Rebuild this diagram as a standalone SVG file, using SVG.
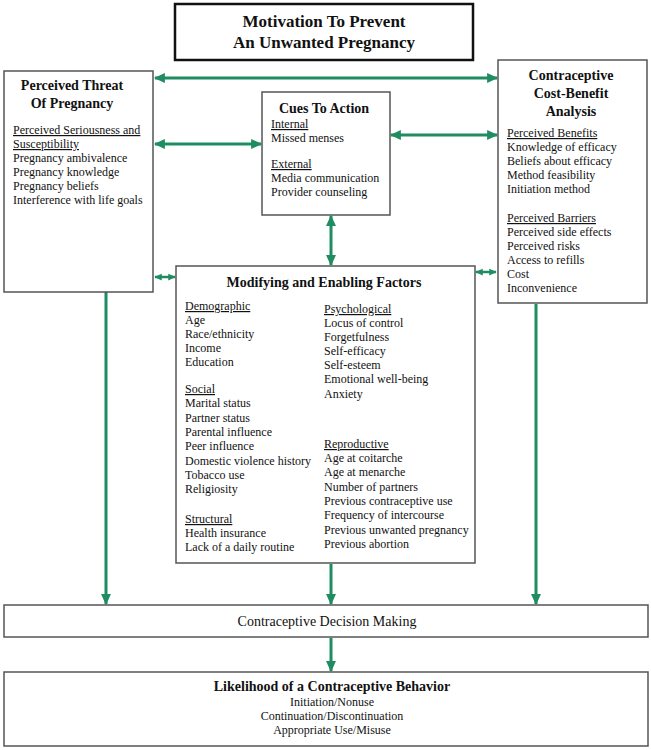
<svg xmlns="http://www.w3.org/2000/svg" width="651" height="750" viewBox="0 0 651 750">
<style>
text{font-family:"Liberation Serif","Times New Roman",serif;fill:#111;}
.t{font-size:14px;font-weight:bold;text-anchor:middle;}
.b{font-size:12px;}
.u{font-size:12px;text-decoration:underline;}
.box{fill:#fff;stroke:#555;stroke-width:1.5;}
.c{stroke:#1f8c62;stroke-width:3;fill:none;marker-end:url(#ah);}
.d{marker-start:url(#ah);}
.s{stroke:#1f8c62;stroke-width:2.5;fill:none;marker-start:url(#sm);marker-end:url(#sm);}
</style>
<defs>
<marker id="ah" markerUnits="userSpaceOnUse" markerWidth="11" markerHeight="11" viewBox="0 0 10 10" refX="9" refY="5" orient="auto-start-reverse">
<path d="M0,0.5 L10,5 L0,9.5 Z" fill="#1f8c62"/>
</marker>
<marker id="sm" markerUnits="userSpaceOnUse" markerWidth="7.5" markerHeight="9" viewBox="0 0 10 10" refX="9" refY="5" orient="auto-start-reverse">
<path d="M0,0.5 L10,5 L0,9.5 Z" fill="#1f8c62"/>
</marker>
</defs>
<rect width="651" height="750" fill="#fff"/>
<g id="connectors">
<line class="c d" x1="155" y1="78" x2="497" y2="78"/>
<line class="c d" x1="155" y1="144" x2="261" y2="144"/>
<line class="c d" x1="391" y1="135" x2="497" y2="135"/>
<line class="c d" x1="331" y1="216" x2="331" y2="265"/>
<line class="s" x1="155" y1="277" x2="175" y2="277"/>
<line class="s" x1="476" y1="272" x2="496" y2="272"/>
<line class="c" x1="106" y1="292" x2="106" y2="604"/>
<line class="c" x1="331" y1="564" x2="331" y2="604"/>
<line class="c" x1="536" y1="304" x2="536" y2="604"/>
<line class="c" x1="331" y1="638" x2="331" y2="671"/>
</g>
<g id="motivation">
<rect x="175" y="4" width="298" height="56" fill="#fff" stroke="#111" stroke-width="2.5"/>
<text x="324" y="27" class="t" style="font-size:17px">Motivation To Prevent</text>
<text x="324" y="48" class="t" style="font-size:17px">An Unwanted Pregnancy</text>
</g>
<g id="threat">
<rect class="box" x="4" y="71" width="149" height="221"/>
<text x="72" y="90" class="t">Perceived Threat</text>
<text x="72" y="108" class="t">Of Pregnancy</text>
<text x="13" y="134" class="u">Perceived Seriousness and</text>
<text x="13" y="148" class="u">Susceptibility</text>
<text x="13" y="162" class="b">Pregnancy ambivalence</text>
<text x="13" y="176" class="b">Pregnancy knowledge</text>
<text x="13" y="190" class="b">Pregnancy beliefs</text>
<text x="13" y="204" class="b">Interference with life goals</text>
</g>
<g id="cues">
<rect class="box" x="262" y="92" width="128" height="123"/>
<text x="324" y="113" class="t">Cues To Action</text>
<text x="271" y="128" class="u">Internal</text>
<text x="271" y="142" class="b">Missed menses</text>
<text x="271" y="168" class="u">External</text>
<text x="271" y="182" class="b">Media communication</text>
<text x="271" y="196" class="b">Provider counseling</text>
</g>
<g id="costbenefit">
<rect class="box" x="498" y="60" width="149" height="243"/>
<text x="571" y="80" class="t">Contraceptive</text>
<text x="571" y="98" class="t">Cost-Benefit</text>
<text x="571" y="116" class="t">Analysis</text>
<text x="507" y="137" class="u">Perceived Benefits</text>
<text x="507" y="151" class="b">Knowledge of efficacy</text>
<text x="507" y="165" class="b">Beliefs about efficacy</text>
<text x="507" y="179" class="b">Method feasibility</text>
<text x="507" y="193" class="b">Initiation method</text>
<text x="507" y="222" class="u">Perceived Barriers</text>
<text x="507" y="236" class="b">Perceived side effects</text>
<text x="507" y="250" class="b">Perceived risks</text>
<text x="507" y="264" class="b">Access to refills</text>
<text x="507" y="278" class="b">Cost</text>
<text x="507" y="292" class="b">Inconvenience</text>
</g>
<g id="modifying">
<rect class="box" x="176" y="266" width="299" height="297"/>
<text x="324" y="287" class="t">Modifying and Enabling Factors</text>
<text x="185" y="310" class="u">Demographic</text>
<text x="185" y="324" class="b">Age</text>
<text x="185" y="338" class="b">Race/ethnicity</text>
<text x="185" y="352" class="b">Income</text>
<text x="185" y="366" class="b">Education</text>
<text x="185" y="393" class="u">Social</text>
<text x="185" y="407" class="b">Marital status</text>
<text x="185" y="422" class="b">Partner status</text>
<text x="185" y="436" class="b">Parental influence</text>
<text x="185" y="450" class="b">Peer influence</text>
<text x="185" y="465" class="b">Domestic violence history</text>
<text x="185" y="479" class="b">Tobacco use</text>
<text x="185" y="493" class="b">Religiosity</text>
<text x="185" y="523" class="u">Structural</text>
<text x="185" y="537" class="b">Health insurance</text>
<text x="185" y="551" class="b">Lack of a daily routine</text>
<text x="324" y="313" class="u">Psychological</text>
<text x="324" y="327" class="b">Locus of control</text>
<text x="324" y="341" class="b">Forgetfulness</text>
<text x="324" y="355" class="b">Self-efficacy</text>
<text x="324" y="369" class="b">Self-esteem</text>
<text x="324" y="383" class="b">Emotional well-being</text>
<text x="324" y="398" class="b">Anxiety</text>
<text x="324" y="448" class="u">Reproductive</text>
<text x="324" y="462" class="b">Age at coitarche</text>
<text x="324" y="476" class="b">Age at menarche</text>
<text x="324" y="491" class="b">Number of partners</text>
<text x="324" y="505" class="b">Previous contraceptive use</text>
<text x="324" y="519" class="b">Frequency of intercourse</text>
<text x="324" y="534" class="b">Previous unwanted pregnancy</text>
<text x="324" y="548" class="b">Previous abortion</text>
</g>
<g id="decision">
<rect class="box" x="4" y="605" width="644" height="32"/>
<text x="327" y="626" style="font-size:14px;text-anchor:middle">Contraceptive Decision Making</text>
</g>
<g id="likelihood">
<rect class="box" x="4" y="672" width="644" height="74"/>
<text x="332" y="691" class="t">Likelihood of a Contraceptive Behavior</text>
<text x="332" y="706" class="b" style="text-anchor:middle">Initiation/Nonuse</text>
<text x="332" y="720" class="b" style="text-anchor:middle">Continuation/Discontinuation</text>
<text x="332" y="734" class="b" style="text-anchor:middle">Appropriate Use/Misuse</text>
</g>
</svg>
